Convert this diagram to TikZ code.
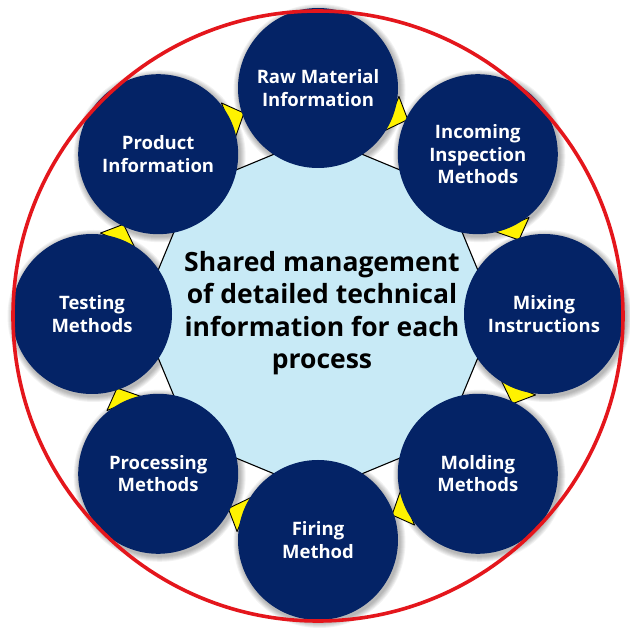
\documentclass[tikz,border=0pt]{standalone}
\usepackage{fontspec}
\setmainfont{Open Sans}
\usetikzlibrary{calc}
\definecolor{navy}{RGB}{4,35,102}
\definecolor{octfill}{RGB}{200,234,246}
\definecolor{triyellow}{RGB}{255,242,0}
\definecolor{ringred}{RGB}{228,22,28}
\begin{document}
\begin{tikzpicture}[x=1pt,y=1pt,
  bubble/.style={circle, fill=navy, minimum size=160pt, inner sep=0pt, text=white,
    font=\bfseries\fontsize{18.5}{22.3}\selectfont, align=center},
  hub/.style={font=\bfseries\fontsize{26.5}{32.5}\selectfont, align=center, text=black},
  octo/.style={fill=octfill, draw=black, line width=1.1pt, line join=miter},
  tri/.style={fill=triyellow, draw=black, line width=0.9pt, line join=round},
  shade/.style={fill=black, opacity=0.05},
  ring/.style={draw=ringred, line width=3.6pt}]
\useasboundingbox (0,0) rectangle (630,633);
\fill[white] (0,0) rectangle (630,633);
\coordinate (C) at (318,319);
\begin{scope}[shift={(C)}]
  % soft shadows
  \foreach \a in {90,45,0,-45,-90,-135,180,135}{
    \foreach \k in {1,...,6}{
      \fill[shade] ($(\a:226)+(1.5,-2)$) circle[radius={80pt+\k pt}];
    }
  }
  % central octagon
  \draw[octo] (0:178) -- (45:178) -- (90:178) -- (135:178) -- (180:178)
     -- (225:178) -- (270:178) -- (315:178) -- cycle;
  % yellow arrow triangles (clockwise)
  \foreach \p in {67.5,22.5,-22.5,-67.5,-112.5,-157.5,157.5,112.5}{
    \begin{scope}[rotate=\p]
      \filldraw[tri] (195,8.5) -- (232,8.5) -- (214,-8.5) -- cycle;
    \end{scope}
  }
  % process circles
  \node[bubble] (raw)  at (90:226)   {Raw Material\\Information};
  \node[bubble] (inc)  at (45:226)   {Incoming\\Inspection\\Methods};
  \node[bubble] (mix)  at (0:226)    {Mixing\\Instructions};
  \node[bubble] (mold) at (-45:226)  {Molding\\Methods};
  \node[bubble] (fire) at (-90:226)  {Firing\\Method};
  \node[bubble] (proc) at (-135:226) {Processing\\Methods};
  \node[bubble] (test) at (180:226)  {Testing\\Methods};
  \node[bubble] (prod) at (135:226)  {Product\\Information};
  % hub text
  \node[hub] (hub) at (4,1) {Shared management\\of detailed technical\\information for each\\process};
\end{scope}
% outer red ring
\draw[ring] (318,317) circle[radius=305pt];
\end{tikzpicture}
\end{document}
